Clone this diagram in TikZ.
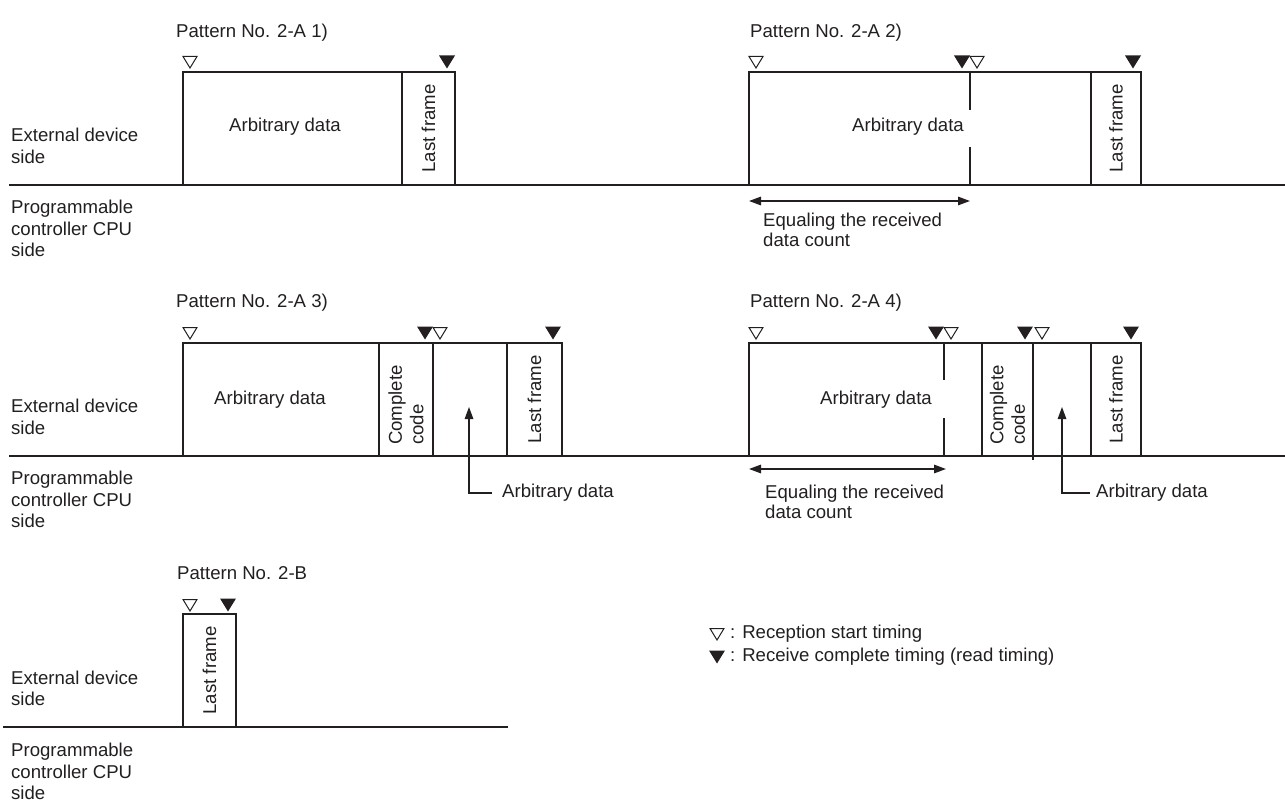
\documentclass[tikz,border=0pt]{standalone}
\usepackage{fontspec}
\setmainfont{Liberation Sans}
\usetikzlibrary{arrows.meta}
\definecolor{ink}{RGB}{35,31,32}
\begin{document}
\begin{tikzpicture}[x=1pt,y=-1pt,
  every node/.style={inner sep=0pt, text=ink, font=\fontsize{18.6}{21.5}\selectfont},
  box/.style={draw=ink, line width=1.3pt},
  base/.style={draw=ink, line width=2.2pt},
  lbl/.style={anchor=west, align=left},
  ttl/.style={anchor=west},
  rot/.style={rotate=90, align=left},
  eqtxt/.style={anchor=west, align=left, font=\fontsize{18.6}{20}\selectfont},
  arr/.style={draw=ink, line width=1.3pt, -{Triangle[length=12pt,width=8.5pt]}},
  darr/.style={draw=ink, line width=1.5pt, {Triangle[length=12pt,width=8.5pt]}-{Triangle[length=12pt,width=8.5pt]}},
  otri/.pic={\draw[ink, line width=1pt, line join=miter] (-7,-5.5) -- (7,-5.5) -- (0,6) -- cycle;},
  ftri/.pic={\fill[ink] (-8,-6.5) -- (8,-6.5) -- (0,6.5) -- cycle;}
]
\useasboundingbox (0,0) rectangle (1285,805);

% ---------------- Row 1 : Pattern 2-A 1) ----------------
\node (t1) [ttl] at (176,33) {Pattern No. 2-A 1)};
\node (ext1) [lbl] at (11,146) {External device\\side};
\node (cpu1) [lbl] at (11,228.5) {Programmable\\controller CPU\\side};
\draw[box] (183,185) |- (455,72) -- (455,185);
\draw[box] (402,72) -- (402,185);
\node (ad1) at (285,127) {Arbitrary data};
\node (lf1) [rot] at (428.5,128.5) {Last frame};
\pic at (190,62) {otri};
\pic at (447,62) {ftri};

% ---------------- Row 1 : Pattern 2-A 2) ----------------
\node (t2) [ttl] at (750,33) {Pattern No. 2-A 2)};
\draw[box] (749,185) |- (1141,72) -- (1141,185);
\draw[box] (970,72) -- (970,110) (970,147) -- (970,185);
\draw[box] (1091,72) -- (1091,185);
\node (ad2) at (908,127) {Arbitrary data};
\node (lf2) [rot] at (1116,128.5) {Last frame};
\pic at (756,62) {otri};
\pic at (962,62) {ftri};
\pic at (977,62) {otri};
\pic at (1133,62) {ftri};
\coordinate (eq2a) at (749,201);
\coordinate (eq2b) at (970,201);
\draw[darr] (eq2a) -- (eq2b);
\node (eq2) [eqtxt] at (763,230) {Equaling the received\\data count};
\draw[base] (9,185) -- (1285,185);

% ---------------- Row 2 : Pattern 2-A 3) ----------------
\node (t3) [ttl] at (176,303) {Pattern No. 2-A 3)};
\node (ext2) [lbl] at (11,417) {External device\\side};
\node (cpu2) [lbl] at (11,499.5) {Programmable\\controller CPU\\side};
\draw[box] (183,456) |- (562,343) -- (562,456);
\draw[box] (379,343) -- (379,456);
\draw[box] (433,343) -- (433,456);
\draw[box] (507,343) -- (507,456);
\node (ad3) at (270,400) {Arbitrary data};
\node (cc3) [rot] at (406,405) {Complete\\code};
\node (lf3) [rot] at (534.5,399.5) {Last frame};
\pic at (190,333) {otri};
\pic at (425,333) {ftri};
\pic at (440,333) {otri};
\pic at (553,333) {ftri};
\coordinate (tip3) at (469,407);
\node (ad3b) [anchor=west] at (502,493) {Arbitrary data};
\draw[arr] ([xshift=-10pt]ad3b.west) -| (tip3);

% ---------------- Row 2 : Pattern 2-A 4) ----------------
\node (t4) [ttl] at (750,303) {Pattern No. 2-A 4)};
\draw[box] (749,456) |- (1141,343) -- (1141,456);
\draw[box] (944,343) -- (944,380) (944,418) -- (944,456);
\draw[box] (982,343) -- (982,456);
\draw[box] (1033,343) -- (1033,459.5);
\draw[box] (1091,343) -- (1091,456);
\node (ad4) at (876,400) {Arbitrary data};
\node (cc4) [rot] at (1007.5,405) {Complete\\code};
\node (lf4) [rot] at (1116,399.5) {Last frame};
\pic at (756,333) {otri};
\pic at (936,333) {ftri};
\pic at (951,333) {otri};
\pic at (1025,333) {ftri};
\pic at (1042,333) {otri};
\pic at (1131,333) {ftri};
\coordinate (eq4a) at (749,469);
\coordinate (eq4b) at (946,469);
\draw[darr] (eq4a) -- (eq4b);
\node (eq4) [eqtxt] at (765,502) {Equaling the received\\data count};
\coordinate (tip4) at (1062,407);
\node (ad4b) [anchor=west] at (1096,493) {Arbitrary data};
\draw[arr] ([xshift=-6pt]ad4b.west) -| (tip4);
\draw[base] (9,456) -- (1285,456);

% ---------------- Row 3 : Pattern 2-B ----------------
\node (t5) [ttl] at (177,573) {Pattern No. 2-B};
\node (ext3) [lbl] at (11,688.5) {External device\\side};
\node (cpu3) [lbl] at (11,771.5) {Programmable\\controller CPU\\side};
\draw[box] (183,727) |- (236,614) -- (236,727);
\node (lf5) [rot] at (209.5,670.5) {Last frame};
\pic at (190,605) {otri};
\pic at (228,605) {ftri};
\draw[base] (3,727) -- (508,727);

% ---------------- Legend ----------------
\pic at (717,634) {otri};
\pic at (717,657) {ftri};
\node (lg1) [anchor=west] at (730,634) {: Reception start timing};
\node (lg2) [anchor=west] at (730,657) {: Receive complete timing (read timing)};
\end{tikzpicture}
\end{document}
